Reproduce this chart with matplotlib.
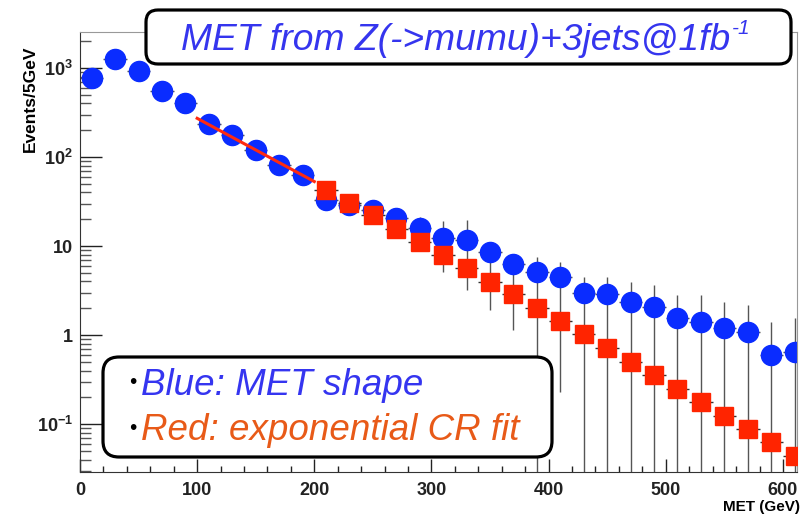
import matplotlib
matplotlib.use("Agg")
import matplotlib.pyplot as plt
from matplotlib.patches import FancyBboxPatch
from matplotlib.ticker import MultipleLocator, LogLocator, NullFormatter

plt.rcParams["font.family"] = ["Liberation Sans", "DejaVu Sans"]
plt.rcParams["mathtext.fontset"] = "custom"
plt.rcParams["mathtext.rm"] = "Liberation Sans"
plt.rcParams["mathtext.it"] = "Liberation Sans:italic"
plt.rcParams["mathtext.bf"] = "Liberation Sans:bold"

# MET bin centres (20 GeV bins)
met = [10, 30, 50, 70, 90, 110, 130, 150, 170, 190, 210, 230, 250, 270, 290, 310,
       330, 350, 370, 390, 410, 430, 450, 470, 490, 510, 530, 550, 570, 590, 610]
blue = [766, 1253, 933, 552, 401, 235, 177, 120, 81, 63, 32.9, 29, 25.4, 20.6, 15.9, 12.3,
        11.7, 8.6, 6.3, 5.1, 4.5, 2.96, 2.89, 2.35, 2.06, 1.55, 1.42, 1.20, 1.08, 0.60, 0.64]
blue_lo = [730, 1200, 890, 520, 375, 215, 160, 107, 71, 54, 27, 23, 19.5, 15, 10.5, 5.1,
           3.2, 1.9, 1.14, 0.01, 0.23, 0.01, 0.01, 0.01, 0.01, 0.01, 0.01, 0.01, 0.01, 0.01, 0.01]
blue_hi = [800, 1310, 980, 585, 430, 255, 195, 135, 92, 73, 39, 35, 32, 27, 21, 19,
           19.5, 10.8, 7.9, 7.6, 6.7, 4.5, 4.5, 3.97, 3.65, 2.82, 2.82, 2.37, 2.17, 1.41, 1.54]

# exponential CR extrapolation
red_met = [210, 230, 250, 270, 290, 310, 330, 350, 370, 390, 410,
           430, 450, 470, 490, 510, 530, 550, 570, 590, 610]
red = [42.6, 30.4, 22.3, 15.5, 11.1, 7.9, 5.66, 3.94, 2.89, 2.01, 1.44,
       1.03, 0.71, 0.50, 0.355, 0.247, 0.177, 0.123, 0.088, 0.063, 0.044]

# fit range in the control region
fit_met = [100, 200]
fit_val = [272, 53]

yticks = [0.1, 1, 10, 100, 1000]
ytick_labels = [r"$\mathbf{10^{-1}}$", "1", "10", r"$\mathbf{10^{2}}$", r"$\mathbf{10^{3}}$"]
xticks = [0, 100, 200, 300, 400, 500, 600]

W, H = 803, 516
fig = plt.figure(figsize=(W / 100, H / 100), dpi=100)
ax = fig.add_axes([80 / W, 44 / H, (797 - 80) / W, (472 - 32) / H])

yerr = [[b - l for b, l in zip(blue, blue_lo)], [h - b for b, h in zip(blue, blue_hi)]]
ax.errorbar(met, blue, yerr=yerr, xerr=10, fmt="o", ms=14.5, color="#0a2cff",
            mec="#0a2cff", ecolor="#555555", elinewidth=1.0, capsize=0, zorder=2)
ax.errorbar(red_met, red, xerr=10, fmt="s", ms=13.5, color="#ff2400",
            mec="#ff2400", ecolor="#333333", elinewidth=1.0, capsize=0, zorder=3)
ax.plot(fit_met, fit_val, color="#ff2a10", lw=2.2, zorder=4)

ax.set_yscale("log")
ax.set_xlim(0, 612)
ax.set_ylim(0.029, 2535)
ax.set_xticks(xticks)
ax.xaxis.set_minor_locator(MultipleLocator(20))
ax.set_yticks(yticks, labels=ytick_labels)
ax.yaxis.set_minor_locator(LogLocator(base=10, subs=range(2, 10)))
ax.yaxis.set_minor_formatter(NullFormatter())
ax.tick_params(axis="x", which="major", direction="in", length=9.5, width=1, pad=7,
               labelsize=13, colors="#222222")
ax.tick_params(axis="x", which="minor", direction="in", length=4.5, width=1, color="#222222")
ax.tick_params(axis="y", which="major", direction="in", length=16, width=1, pad=5,
               labelsize=13, colors="#222222")
ax.tick_params(axis="y", which="minor", direction="in", length=8, width=1, color="#555555")
for lab in ax.get_xticklabels() + ax.get_yticklabels():
    lab.set_fontweight("bold")
for side in ["left", "bottom"]:
    ax.spines[side].set_color("#333333")
for side in ["top", "right"]:
    ax.spines[side].set_color("#999999")

fig.text(30 / W, 1 - 99 / H, "Events/5GeV", rotation=90, ha="center", va="center",
         fontsize=12.5, fontweight="bold")
fig.text(800 / W, 1 - 507 / H, "MET (GeV)", ha="right", va="center",
         fontsize=11, fontweight="bold")

# title box
tb = FancyBboxPatch((1.46, 5.16 - 0.64), 6.45, 0.54, boxstyle="round,pad=0,rounding_size=0.12",
                    transform=fig.dpi_scale_trans, fc="white", ec="black", lw=2.3, zorder=5)
fig.add_artist(tb)
title_col = "#3535ee"
t = fig.text(181 / W, 1 - 50 / H, "MET from Z(->mumu)+3jets@1fb", ha="left",
             va="baseline", fontsize=26.8, style="italic", color=title_col, zorder=6)
renderer = fig.canvas.get_renderer()
x_end = t.get_window_extent(renderer).x1
fig.text((x_end + 2) / W, 1 - 34 / H, "-1", ha="left", va="baseline", fontsize=15,
         style="italic", color=title_col, zorder=6)

# legend box
lb = FancyBboxPatch((1.03, 5.16 - 4.57), 4.49, 1.00, boxstyle="round,pad=0,rounding_size=0.16",
                    transform=fig.dpi_scale_trans, fc="white", ec="black", lw=2.3, zorder=5)
fig.add_artist(lb)
for yb, txt, col in [(395, "Blue: MET shape", "#3535f0"),
                     (440, "Red: exponential CR fit", "#e85a18")]:
    fig.text(133 / W, 1 - (yb - 12) / H, "\u2022", ha="center", va="center",
             fontsize=15, color="black", zorder=6)
    fig.text(141 / W, 1 - yb / H, txt, ha="left", va="baseline", fontsize=26.5,
             style="italic", color=col, zorder=6)

fig.savefig("out.png", dpi=100)
